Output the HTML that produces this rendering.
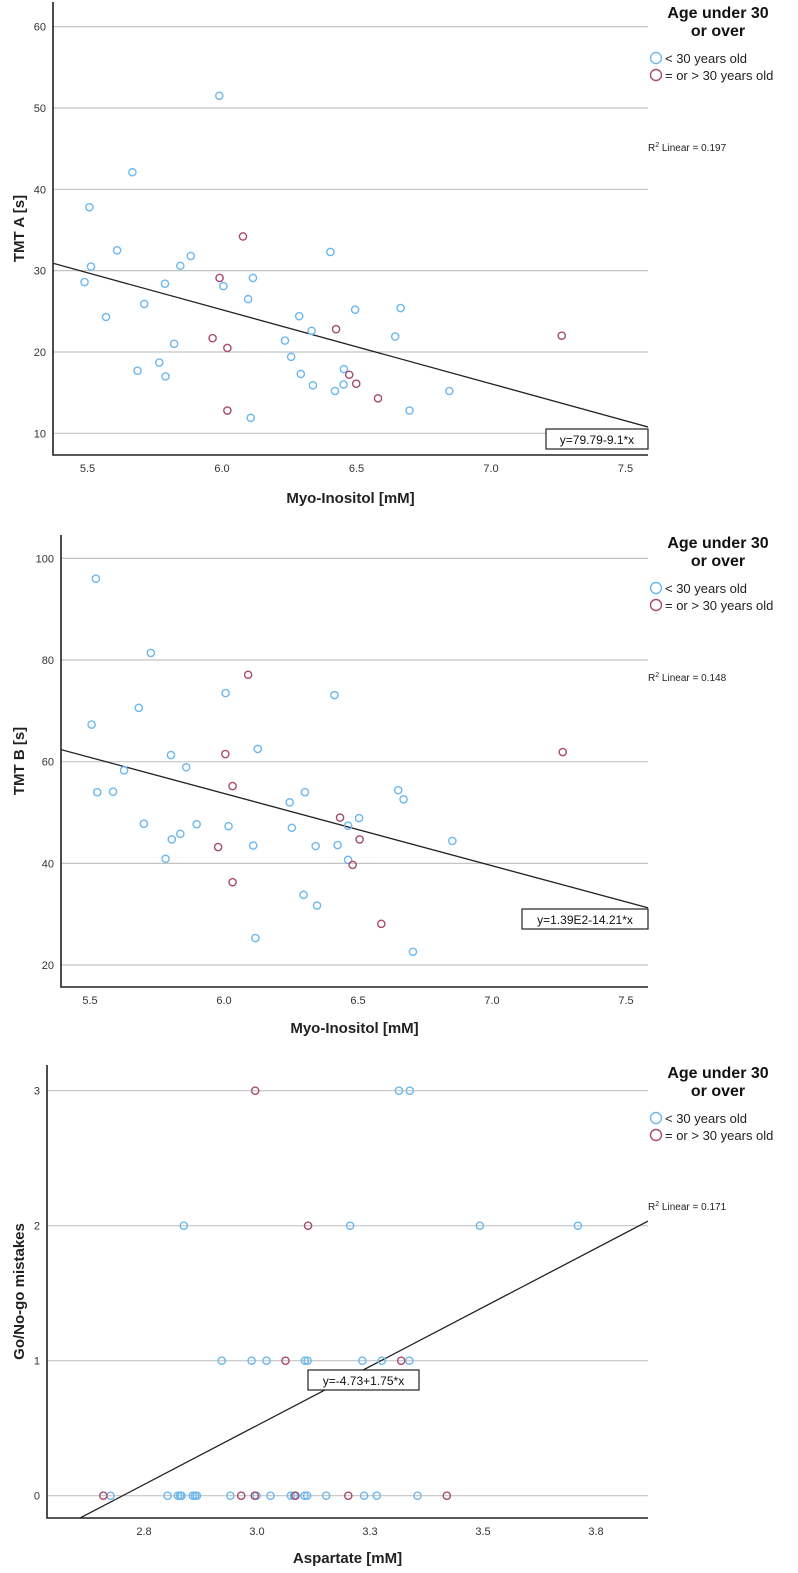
<!DOCTYPE html>
<html><head><meta charset="utf-8">
<style>
html,body{margin:0;padding:0;background:#fff;}
svg{display:block;font-family:"Liberation Sans",sans-serif;}
</style></head>
<body>
<svg id="chart" width="798" height="1573" viewBox="0 0 798 1573" xmlns="http://www.w3.org/2000/svg"></svg>
<script>
// ---------- Panel A data (TMT A vs Myo-Inositol) ----------
const aYoungX=[5.99,5.667,5.507,5.513,5.489,5.61,5.569,5.711,5.845,5.884,5.788,5.686,5.767,5.79,5.822,6.005,6.115,6.097,6.107,6.234,6.287,6.333,6.257,6.293,6.338,6.42,6.403,6.495,6.664,6.644,6.453,6.452,6.845,6.697];
const aYoungY=[51.5,42.1,37.8,30.5,28.6,32.5,24.3,25.9,30.6,31.8,28.4,17.7,18.7,17.0,21.0,28.1,29.1,26.5,11.9,21.4,24.4,22.6,19.4,17.3,15.9,15.2,32.3,25.2,25.4,21.9,17.9,16.0,15.2,12.8];
const aOldX=[6.078,5.991,5.965,6.02,6.02,6.424,6.473,6.499,6.58,7.263];
const aOldY=[34.2,29.1,21.7,20.5,12.8,22.8,17.2,16.1,14.3,22.0];
const aTicksY=[10,20,30,40,50,60];
const aTicksX=[5.5,6.0,6.5,7.0,7.5];
const aFit=[79.79,-9.1];
// ---------- Panel B data (TMT B vs Myo-Inositol) ----------
const bYoungX=[5.522,5.727,5.682,5.506,6.006,6.412,5.802,5.859,5.627,5.527,5.586,6.126,5.701,5.898,6.017,5.805,5.837,5.782,6.109,6.245,6.302,6.253,6.342,6.297,6.347,6.117,6.424,6.65,6.67,6.504,6.463,6.463,6.852,6.705];
const bYoungY=[96.0,81.4,70.6,67.3,73.5,73.1,61.3,58.9,58.3,54.0,54.1,62.5,47.8,47.7,47.3,44.7,45.8,40.9,43.5,52.0,54.0,47.0,43.4,33.8,31.7,25.3,43.6,54.4,52.6,48.9,47.4,40.7,44.4,22.6];
const bOldX=[6.09,6.005,6.032,5.978,6.032,6.433,6.506,6.48,6.587,7.264];
const bOldY=[77.1,61.5,55.2,43.2,36.3,49.0,44.7,39.7,28.1,61.9];
const bTicksY=[20,40,60,80,100];
const bTicksX=[5.5,6.0,6.5,7.0,7.5];
const bFit=[139,-14.21];
// ---------- Panel C data (Go/No-go vs Aspartate) ----------
const cYoungX=[2.676,2.802,2.825,2.83,2.833,2.858,2.863,2.867,2.941,2.999,3.03,3.075,3.082,3.105,3.111,3.153,3.237,3.265,3.355,2.922,2.988,3.021,3.106,3.112,3.233,3.276,3.337,2.838,3.206,3.493,3.71,3.314,3.338];
const cYoungY=[0,0,0,0,0,0,0,0,0,0,0,0,0,0,0,0,0,0,0,1,1,1,1,1,1,1,1,2,2,2,2,3,3];
const cOldX=[2.66,2.965,2.995,3.085,3.202,3.42,3.063,3.319,3.113,2.996];
const cOldY=[0,0,0,0,0,0,1,1,2,3];
const cTicksY=[0,1,2,3];
const cTicksX=[2.75,3.0,3.25,3.5,3.75];
const cFit=[-4.73,1.75];

const NS="http://www.w3.org/2000/svg";
const svg=document.getElementById('chart');
function mk(tag,attrs,parent,text){const e=document.createElementNS(NS,tag);for(const k in attrs)e.setAttribute(k,attrs[k]);if(text!==undefined)e.textContent=text;(parent||svg).appendChild(e);return e;}

function panel(p,id){
  const g=mk('g',{});
  
  
  const sx=v=>p.x0+(v-p.xv0)*p.xs;
  const sy=v=>p.y0-(v-p.yv0)*p.ys;
  // grid + y ticks
  p.ticksY.forEach(t=>{
    const l=mk('line',{x1:p.left,x2:p.right,y1:sy(t),y2:sy(t),stroke:'#c4c4c4','stroke-width':1.2},g);
    
    
    const tx=mk('text',{x:p.left-7,y:sy(t)+4,'text-anchor':'end','font-size':11,fill:'#333'},g,String(t));
    
    
  });
  p.ticksX.forEach(t=>{
    const tx=mk('text',{x:sx(t),y:p.bottom+17,'text-anchor':'middle','font-size':11,fill:'#333'},g,t.toFixed(1));
    
    
  });
  // clip for fit line
  const cp=mk('clipPath',{id:'clip-'+id},g);
  mk('rect',{x:p.left,y:p.top,width:p.right-p.left,height:p.bottom-p.top},cp);
  const xa=(p.bottom-p.y0)/-p.ys+p.yv0;
  const xl=p.xv0+(p.left-p.x0)/p.xs, xr=p.xv0+(p.right-p.x0)/p.xs;
  const fl=mk('line',{x1:sx(xl),y1:sy(p.fit[0]+p.fit[1]*xl),x2:sx(xr),y2:sy(p.fit[0]+p.fit[1]*xr),stroke:'#222','stroke-width':1.3,'clip-path':'url(#clip-'+id+')'},g);
  
  
  // points
  const draw=(xs,ys,col,nm)=>xs.forEach((v,i)=>{
    const c=mk('circle',{cx:sx(v),cy:sy(ys[i]),r:3.6,fill:'none',stroke:col,'stroke-width':1.4},g);
    
    
  });
  draw(p.yx,p.yy,'#6cb8ee','point-under-30');
  draw(p.ox,p.oy,'#a84a6c','point-30-or-over');
  // axes
  const ax=mk('path',{d:`M${p.left},${p.top} V${p.bottom} H${p.right}`,fill:'none',stroke:'#222','stroke-width':1.6},g);
  
  
  // equation box
  const bx=mk('rect',{x:p.box[0],y:p.box[1],width:p.box[2],height:20,fill:'#fff',stroke:'#222','stroke-width':1.2},g);
  
  
  const bt=mk('text',{x:p.box[0]+p.box[2]/2,y:p.box[1]+15,'text-anchor':'middle','font-size':12,fill:'#111'},g,p.eq);
  
  
  // axis titles
  const xt=mk('text',{x:(p.left+p.right)/2,y:p.xtY,'text-anchor':'middle','font-size':15,'font-weight':'bold',fill:'#222'},g,p.xTitle);
  
  
  const ym=(p.top+p.bottom)/2;
  const yt=mk('text',{x:24,y:ym,'text-anchor':'middle','font-size':15,'font-weight':'bold',fill:'#222',transform:`rotate(-90 24 ${ym})`},g,p.yTitle);
  
  
  // legend
  const L=p.leg;
  const lg=mk('g',{},g);
  
  
  mk('text',{x:718,y:L+18,'text-anchor':'middle','font-size':16,'font-weight':'bold',fill:'#111'},lg,'Age under 30');
  mk('text',{x:718,y:L+36,'text-anchor':'middle','font-size':16,'font-weight':'bold',fill:'#111'},lg,'or over');
  const e1=mk('circle',{cx:656,cy:L+58,r:5.5,fill:'none',stroke:'#6cb8ee','stroke-width':1.4},lg);
  
  
  mk('text',{x:665,y:L+63,'font-size':13,fill:'#222'},lg,'< 30 years old');
  const e2=mk('circle',{cx:656,cy:L+75,r:5.5,fill:'none',stroke:'#a84a6c','stroke-width':1.4},lg);
  
  
  mk('text',{x:665,y:L+80,'font-size':13,fill:'#222'},lg,'= or > 30 years old');
  const r2=mk('text',{x:648,y:p.r2Y,'font-size':10,fill:'#222'},g);
  
  
  mk('tspan',{},r2,'R');
  mk('tspan',{dy:-4,'font-size':7},r2,'2');
  mk('tspan',{dy:4},r2,' Linear = '+p.r2);
}

panel({left:53,right:648,top:2,bottom:455,x0:222,xv0:6,xs:269,y0:433.3,yv0:10,ys:8.133,
  ticksX:aTicksX,ticksY:aTicksY,fit:aFit,yx:aYoungX,yy:aYoungY,ox:aOldX,oy:aOldY,
  box:[546,429,102],eq:'y=79.79-9.1*x',xTitle:'Myo-Inositol [mM]',xtY:503,yTitle:'TMT A [s]',leg:0,r2Y:151,r2:'0.197'},'tmt-a');
panel({left:61,right:648,top:535,bottom:987,x0:224,xv0:6,xs:268,y0:965,yv0:20,ys:5.083,
  ticksX:bTicksX,ticksY:bTicksY,fit:bFit,yx:bYoungX,yy:bYoungY,ox:bOldX,oy:bOldY,
  box:[522,909,126],eq:'y=1.39E2-14.21*x',xTitle:'Myo-Inositol [mM]',xtY:1033,yTitle:'TMT B [s]',leg:530,r2Y:681,r2:'0.148'},'tmt-b');
panel({left:47,right:648,top:1065,bottom:1518,x0:257,xv0:3,xs:452,y0:1495.7,yv0:0,ys:135,
  ticksX:cTicksX,ticksY:cTicksY,fit:cFit,yx:cYoungX,yy:cYoungY,ox:cOldX,oy:cOldY,
  box:[308,1370,111],eq:'y=-4.73+1.75*x',xTitle:'Aspartate [mM]',xtY:1563,yTitle:'Go/No-go mistakes',leg:1060,r2Y:1210,r2:'0.171'},'go-nogo');
</script>
</body></html>
